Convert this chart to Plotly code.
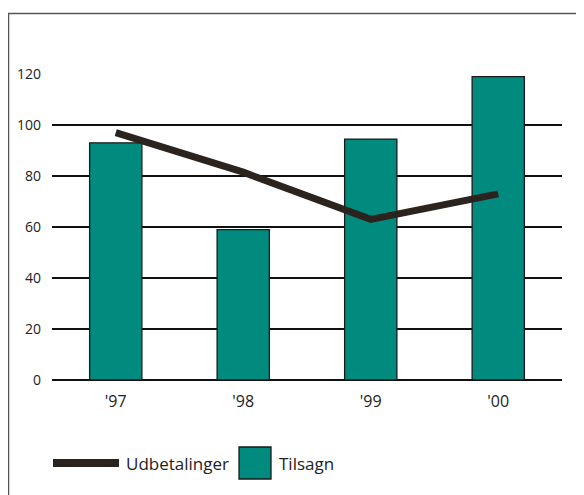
import plotly.graph_objects as go

years = ["'97", "'98", "'99", "'00"]
tilsagn = [93, 59, 94.5, 119]
udbetalinger = [97, 81.5, 63, 73]
y_ticks = [0, 20, 40, 60, 80, 100, 120]

OFF = 8  # browser default body margin
W, H = 584 - OFF, 495 - OFF
L, R, T, B = 52 - OFF, 22, 74 - OFF, 115
pw, ph = W - L - R, H - T - B

def px(x):
    return (x - OFF - L) / pw

def py(y):
    return (H - B - (y - OFF)) / ph

FONT = "Open Sans"
fig = go.Figure()
fig.add_trace(go.Bar(x=years, y=tilsagn, name="Tilsagn",
                     marker=dict(color="#008B7E", line=dict(color="#1a1a1a", width=1.3)),
                     showlegend=False))
fig.add_trace(go.Scatter(x=years, y=udbetalinger, name="Udbetalinger", mode="lines",
                         line=dict(color="#2B241E", width=7), showlegend=False))

shapes = [
    dict(type="rect", xref="paper", yref="paper", x0=px(8.5), y0=py(13.5), x1=px(600), y1=py(520),
         line=dict(color="#555", width=1.5), fillcolor="rgba(0,0,0,0)", layer="below"),
    dict(type="line", xref="paper", yref="paper", x0=px(53), x1=px(119), y0=py(463), y1=py(463),
         line=dict(color="#2B241E", width=8)),
    dict(type="rect", xref="paper", yref="paper", x0=px(239), x1=px(271), y0=py(447), y1=py(479),
         fillcolor="#008B7E", line=dict(color="#1a1a1a", width=1.3)),
]
annotations = [
    dict(xref="paper", yref="paper", x=px(126), y=py(463), text="Udbetalinger", showarrow=False,
         xanchor="left", yanchor="middle", xshift=-2, font=dict(size=17, color="#222", family=FONT)),
    dict(xref="paper", yref="paper", x=px(279), y=py(463), text="Tilsagn", showarrow=False,
         xanchor="left", yanchor="middle", xshift=-2, font=dict(size=17, color="#222", family=FONT)),
]

fig.update_layout(
    width=W, height=H,
    margin=dict(l=L, r=R, t=T, b=B, autoexpand=False),
    paper_bgcolor="white", plot_bgcolor="white",
    bargap=0.59,
    shapes=shapes, annotations=annotations,
    xaxis=dict(showgrid=False, showline=False, ticks="", zeroline=False,
               tickfont=dict(size=16, color="#222", family=FONT), ticklabelstandoff=10),
    yaxis=dict(range=[0, 120], tickvals=y_ticks, showgrid=True, gridcolor="#111", gridwidth=1.5,
               zeroline=True, zerolinecolor="#111", zerolinewidth=1.5, ticks="",
               tickfont=dict(size=14, color="#222", family=FONT), ticklabelstandoff=10),
)

fig.write_html("out.html")
